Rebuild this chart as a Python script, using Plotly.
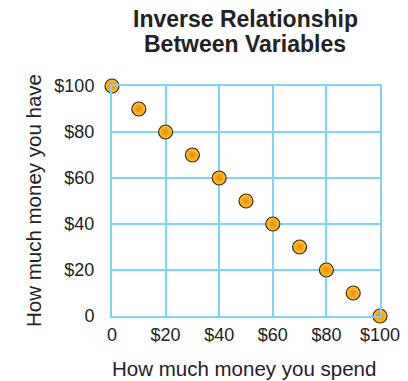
import plotly.graph_objects as go

# Money spent versus money remaining
spent = [0, 10, 20, 30, 40, 50, 60, 70, 80, 90, 100]
have = [100, 90, 80, 70, 60, 50, 40, 30, 20, 10, 0]

tick_vals = [0, 20, 40, 60, 80, 100]
x_tick_text = ["0", "$20", "$40", "$60", "$80", "$100"]
y_tick_text = ["0", "$20", "$40", "$60", "$80", "$100"]

title_lines = ["Inverse Relationship", "Between Variables"]
x_title = "How much money you spend"
y_title = "How much money you have"

grid_blue = "#7fd4f6"
ink = "#222222"
font_family = "Liberation Sans, Arial, sans-serif"

fig = go.Figure(
    go.Scatter(
        x=spent,
        y=have,
        mode="markers",
        cliponaxis=False,
        marker=dict(
            size=14,
            color="#ffc72a",
            gradient=dict(type="radial", color="#f08800"),
            line=dict(color="#3b2a1c", width=1.2),
        ),
        showlegend=False,
    )
)

axis_common = dict(
    range=[0, 100],
    tickvals=tick_vals,
    showgrid=True,
    gridcolor=grid_blue,
    gridwidth=2,
    showline=True,
    linecolor=grid_blue,
    linewidth=2,
    mirror=True,
    zeroline=False,
    automargin=False,
    ticks="",
    tickfont=dict(family=font_family, size=18, color=ink),
)

fig.update_xaxes(**axis_common, ticktext=x_tick_text, ticklabelstandoff=1)
fig.update_yaxes(**axis_common, ticktext=y_tick_text, ticklabelstandoff=12)

# Two-line bold heading centred over the plot area
for i, line in enumerate(title_lines):
    fig.add_annotation(
        text=f"<b>{line}</b>",
        xref="paper",
        yref="paper",
        x=0.5,
        y=1,
        xanchor="center",
        yanchor="middle",
        yshift=86 - 19 - 25 * i,
        xshift=-1,
        showarrow=False,
        font=dict(family=font_family, size=23, color=ink),
    )

# Axis titles
fig.add_annotation(
    text=x_title,
    xref="paper",
    yref="paper",
    x=0.5,
    y=0,
    xanchor="center",
    yanchor="middle",
    yshift=-52,
    xshift=-2,
    showarrow=False,
    font=dict(family=font_family, size=20.5, color=ink),
)
fig.add_annotation(
    text=y_title,
    xref="paper",
    yref="paper",
    x=0,
    y=0.5,
    xanchor="center",
    yanchor="middle",
    xshift=-79,
    textangle=-90,
    showarrow=False,
    font=dict(family=font_family, size=20.5, color=ink),
)

fig.update_layout(
    width=408,
    height=381,
    margin=dict(l=112, r=28, t=86, b=65),
    paper_bgcolor="white",
    plot_bgcolor="white",
)

fig.write_html("out.html")
